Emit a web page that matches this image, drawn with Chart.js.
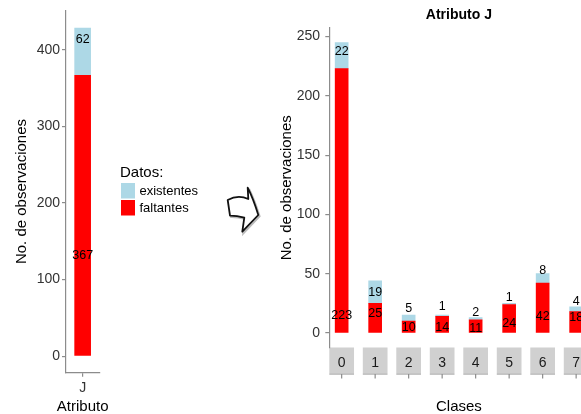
<!DOCTYPE html>
<html>
<head>
<meta charset="utf-8">
<script src="https://cdn.jsdelivr.net/npm/chart.js@4.4.1/dist/chart.umd.min.js"></script>
<style>
  html, body { margin: 0; padding: 0; background: #fff; overflow: hidden; width: 581px; height: 414px; }
  #left { position: absolute; left: 0; top: 0; }
  #right { position: absolute; left: 260px; top: 0; }
  #arrow { position: absolute; left: 222px; top: 183px; }
</style>
</head>
<body>
<canvas id="left" width="230" height="414"></canvas>
<svg id="arrow" width="40" height="55" viewBox="222 183 40 55">
  <path d="M229.2 201.2 Q239.5 195.5 249.5 200.2 L249 188.9 Q254.5 200 259.5 216.2 L243.5 232.9 L245.5 218.9 Q237.5 216.8 231.2 216.9 Z"
        fill="none" stroke="#bbb" stroke-width="2.2"/>
  <path d="M227.7 200 Q238 194.3 248.3 199 L247.7 187.7 Q253.3 198.8 258.3 215 L242.3 231.7 L244.3 217.7 Q236.3 215.6 230 215.7 Z"
        fill="#fff" stroke="#111" stroke-width="1.8" stroke-linejoin="round"/>
</svg>
<canvas id="right" width="360" height="414"></canvas>
<script>
// resumen del atributo J
const atributo = ['J'];
const totalFaltantes = [367];
const totalExistentes = [62];
const totalFaltLabelY = [132];
const totalExistLabelY = [414];
const totalTicks = [0, 100, 200, 300, 400];

// detalle por clase
const clases = [0, 1, 2, 3, 4, 5, 6, 7];
const faltantes = [223, 25, 10, 14, 11, 24, 42, 18];
const existentes = [22, 19, 5, 1, 2, 1, 8, 4];
const faltLabelY = [14.6, 16, 5, 4.5, 3.9, 7.9, 13.5, 12.7];
const existLabelY = [237, 33.8, 20.3, 22, 17.4, 30, 53, 26.7];
const clasesTicks = [0, 50, 100, 150, 200, 250];

const ROJO = '#FF0000';
const AZUL = '#ADD8E6';
const GRIS = '#8c8c8c';
const FUENTE = '"Liberation Sans", Arial, sans-serif';

Chart.defaults.font.family = FUENTE;
Chart.defaults.animation = false;

// textos de cada segmento
const etiquetas = {
  id: 'etiquetas',
  afterDatasetsDraw(chart) {
    const ctx = chart.ctx;
    const y = chart.scales.y;
    ctx.save();
    ctx.font = '12.5px ' + FUENTE;
    ctx.fillStyle = '#000';
    ctx.textAlign = 'center';
    ctx.textBaseline = 'middle';
    chart.data.datasets.forEach((ds, di) => {
      chart.getDatasetMeta(di).data.forEach((bar, i) => {
        const d = ds.data[i];
        const v = typeof d === 'object' ? d.y : d;
        ctx.fillText(String(v), bar.x, y.getPixelForValue(ds.etiquetaY[i]));
      });
    });
    ctx.restore();
  }
};

// leyenda "Datos:" y titulo del eje x (sin recorte de ancho)
const leyenda = {
  id: 'leyenda',
  afterDraw(chart) {
    const ctx = chart.ctx;
    const x = chart.scales.x;
    ctx.save();
    ctx.textBaseline = 'middle';
    ctx.fillStyle = '#000';
    ctx.font = '15px ' + FUENTE;
    ctx.textAlign = 'center';
    ctx.fillText('Atributo', (x.left + x.right) / 2, 406.5);
    ctx.textAlign = 'left';
    ctx.fillText('Datos:', 120, 173);
    ctx.font = '13px ' + FUENTE;
    chart.data.datasets.slice().reverse().forEach((ds, k) => {
      const top = 183 + k * 17;
      ctx.fillStyle = ds.backgroundColor;
      ctx.fillRect(121, top, 14, 15.5);
      ctx.fillStyle = '#000';
      ctx.fillText(ds.label, 139.5, top + 8.5);
    });
    ctx.restore();
  }
};

// tiras grises de las facetas y ejes cortos
const tiras = {
  id: 'tiras',
  beforeDraw(chart) {
    const ctx = chart.ctx;
    const x = chart.scales.x;
    const top = x.top;
    const media = 0.369;
    ctx.save();
    x.ticks.forEach(t => {
      const a = x.getPixelForValue(t.value - media);
      const b = x.getPixelForValue(t.value + media);
      const c = x.getPixelForValue(t.value);
      ctx.fillStyle = '#D0D0D0';
      ctx.fillRect(a, top, b - a, 25.5);
      ctx.strokeStyle = GRIS;
      ctx.lineWidth = 1.2;
      ctx.beginPath();
      ctx.moveTo(a, top + 26.5);
      ctx.lineTo(b, top + 26.5);
      ctx.moveTo(c, top + 26.5);
      ctx.lineTo(c, top + 31);
      ctx.stroke();
    });
    ctx.restore();
  }
};

new Chart(document.getElementById('left'), {
  type: 'bar',
  data: {
    labels: atributo,
    datasets: [
      { label: 'faltantes', data: totalFaltantes, backgroundColor: ROJO, etiquetaY: totalFaltLabelY,
        barPercentage: 0.5, categoryPercentage: 1 },
      { label: 'existentes', data: totalExistentes, backgroundColor: AZUL, etiquetaY: totalExistLabelY,
        barPercentage: 0.5, categoryPercentage: 1 }
    ]
  },
  options: {
    responsive: false,
    layout: { padding: { left: 0, right: 130.7, top: 7.3, bottom: 0 } },
    plugins: { legend: { display: false }, tooltip: { enabled: false } },
    scales: {
      x: {
        stacked: true,
        afterFit: s => { s.height = 41.3; },
        grid: { drawOnChartArea: false, offset: false, tickLength: 4, color: GRIS, lineWidth: 1.2 },
        border: { color: GRIS, width: 1.2 },
        ticks: { padding: 3, color: '#333', font: { size: 14 } }
      },
      y: {
        stacked: true,
        min: -21.5,
        max: 451.5,
        afterBuildTicks: s => { s.ticks = totalTicks.map(v => ({ value: v })); },
        afterFit: s => { s.width = 66; },
        grid: { drawOnChartArea: false, tickLength: 4, color: GRIS, lineWidth: 1.2 },
        border: { color: GRIS, width: 1.2 },
        ticks: { padding: 2, color: '#333', font: { size: 14 } },
        title: { display: true, text: 'No. de observaciones', color: '#000', font: { size: 15 }, padding: { top: 12.7, bottom: 0 } }
      }
    }
  },
  plugins: [etiquetas, leyenda]
});

new Chart(document.getElementById('right'), {
  type: 'bar',
  data: {
    datasets: [
      { label: 'faltantes', data: clases.map((c, i) => ({ x: c, y: faltantes[i] })),
        backgroundColor: ROJO, etiquetaY: faltLabelY, barThickness: 13 },
      { label: 'existentes', data: clases.map((c, i) => ({ x: c, y: existentes[i] })),
        backgroundColor: AZUL, etiquetaY: existLabelY, barThickness: 13 }
    ]
  },
  options: {
    responsive: false,
    layout: { padding: { left: 0, right: 31.5, top: 0, bottom: 0 } },
    plugins: {
      legend: { display: false },
      tooltip: { enabled: false },
      title: { display: true, text: 'Atributo J', fullSize: false, color: '#000',
               font: { size: 14, weight: 'bold' }, padding: { top: 6.6, bottom: 4.6 } }
    },
    scales: {
      x: {
        type: 'linear',
        stacked: true,
        offset: false,
        min: -0.369,
        max: 7.369,
        afterBuildTicks: s => { s.ticks = clases.map(v => ({ value: v })); },
        afterFit: s => { s.height = 66.5; },
        grid: { display: false, drawTicks: false, offset: false },
        border: { display: false },
        ticks: { padding: 7, color: '#1A1A1A', font: { size: 14 }, callback: v => String(v) },
        title: { display: true, text: 'Clases', color: '#000', font: { size: 15, lineHeight: 1 }, padding: 0 }
      },
      y: {
        stacked: true,
        min: -12.25,
        max: 257.25,
        afterBuildTicks: s => { s.ticks = clasesTicks.map(v => ({ value: v })); },
        afterFit: s => { s.width = 69.3; },
        grid: { drawOnChartArea: false, tickLength: 4, color: GRIS, lineWidth: 1.2 },
        border: { color: GRIS, width: 1.2 },
        ticks: { padding: 5.3, color: '#333', font: { size: 14 } },
        title: { display: true, text: 'No. de observaciones', color: '#000', font: { size: 15 }, padding: { top: 18, bottom: 0 } }
      }
    }
  },
  plugins: [tiras, etiquetas]
});
</script>
</body>
</html>
